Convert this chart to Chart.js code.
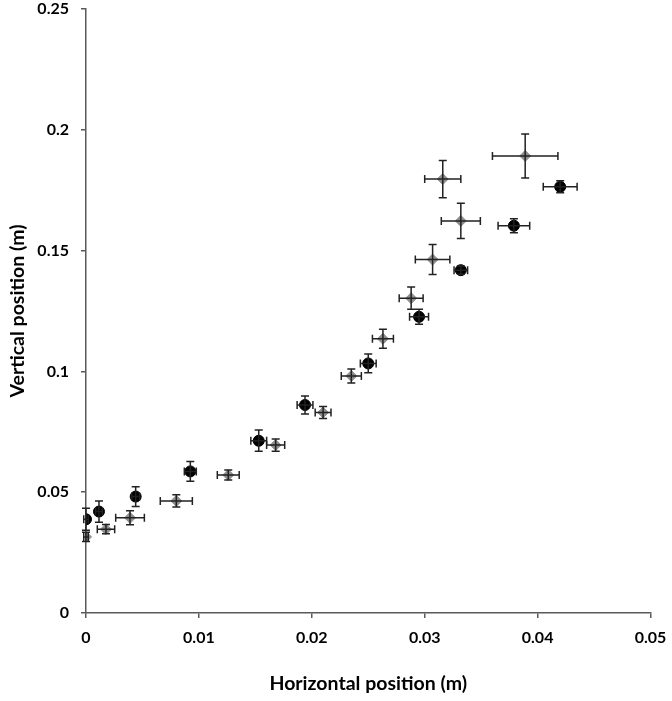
<!DOCTYPE html>
<html>
<head>
<meta charset="utf-8">
<script src="https://cdn.jsdelivr.net/npm/chart.js@4/dist/chart.umd.min.js"></script>
<style>
  html, body { margin: 0; padding: 0; background: #fff; }
  #wrap { width: 672px; height: 701px; }
</style>
</head>
<body>
<div id="wrap"><canvas id="chart" width="672" height="701"></canvas></div>
<script>
// --- data ---
const blackX    = [0, 0.00115, 0.0044, 0.00924, 0.0153, 0.0194, 0.025, 0.0295, 0.0332, 0.0379, 0.042];
const blackY    = [0.0388, 0.042, 0.0482, 0.0586, 0.0713, 0.0861, 0.1033, 0.1226, 0.1419, 0.1603, 0.1764];
const blackXErr = [0.0002, 0.0003, 0.00035, 0.00053, 0.0007, 0.0007, 0.0007, 0.00084, 0.0006, 0.0014, 0.0015];
const blackYErr = [0.0046, 0.0044, 0.0041, 0.0041, 0.0044, 0.0037, 0.0039, 0.0031, 0.0017, 0.0029, 0.0025];

const greyX    = [0, 0.00177, 0.0039, 0.008, 0.0126, 0.0168, 0.021, 0.0235, 0.0263, 0.0288, 0.0307, 0.0332, 0.0316, 0.0389];
const greyY    = [0.0315, 0.0347, 0.0394, 0.0464, 0.0571, 0.0695, 0.083, 0.0981, 0.1135, 0.1303, 0.1463, 0.1623, 0.1796, 0.1892];
const greyXErr = [0.0002, 0.00077, 0.00127, 0.00142, 0.00097, 0.0008, 0.0007, 0.00089, 0.00093, 0.00106, 0.00153, 0.00173, 0.0016, 0.0029];
const greyYErr = [0.0019, 0.0019, 0.0029, 0.0025, 0.0021, 0.0025, 0.0025, 0.0029, 0.0039, 0.0046, 0.0062, 0.0073, 0.0077, 0.0091];

const xTicks = [0, 0.01, 0.02, 0.03, 0.04, 0.05];
const yTicks = [0, 0.05, 0.1, 0.15, 0.2, 0.25];

const toPoints = (xs, ys, xe, ye) => xs.map((x, i) => ({ x, y: ys[i], xErr: xe[i], yErr: ye[i] }));

// error bars, drawn through the scales after the markers
const errorBars = {
  id: 'errorBars',
  afterDatasetsDraw(chart) {
    const { ctx, scales: { x, y } } = chart;
    const cap = 4;
    ctx.save();
    ctx.strokeStyle = '#222';
    ctx.lineWidth = 1.5;
    chart.data.datasets.forEach(ds => {
      ds.data.forEach(p => {
        const px = x.getPixelForValue(p.x), py = y.getPixelForValue(p.y);
        const x1 = x.getPixelForValue(p.x - p.xErr), x2 = x.getPixelForValue(p.x + p.xErr);
        const y1 = y.getPixelForValue(p.y - p.yErr), y2 = y.getPixelForValue(p.y + p.yErr);
        ctx.beginPath();
        ctx.moveTo(x1, py); ctx.lineTo(x2, py);
        ctx.moveTo(x1, py - cap); ctx.lineTo(x1, py + cap);
        ctx.moveTo(x2, py - cap); ctx.lineTo(x2, py + cap);
        ctx.moveTo(px, y1); ctx.lineTo(px, y2);
        ctx.moveTo(px - cap, y1); ctx.lineTo(px + cap, y1);
        ctx.moveTo(px - cap, y2); ctx.lineTo(px + cap, y2);
        ctx.stroke();
      });
    });
    ctx.restore();
  }
};

const tickFont = { family: 'Lato', size: 16, weight: 'bold' };
const titleFont = { family: 'Lato', size: 19.5, weight: 'bold' };

new Chart(document.getElementById('chart'), {
  type: 'scatter',
  data: {
    datasets: [
      {
        label: 'grey',
        data: toPoints(greyX, greyY, greyXErr, greyYErr),
        pointStyle: 'rectRot',
        pointRadius: 5.5,
        backgroundColor: '#8e8e8e',
        borderColor: '#8e8e8e',
        borderWidth: 1
      },
      {
        label: 'black',
        data: toPoints(blackX, blackY, blackXErr, blackYErr),
        pointStyle: 'circle',
        pointRadius: 5.5,
        backgroundColor: '#000',
        borderColor: '#000',
        borderWidth: 1
      }
    ]
  },
  options: {
    responsive: false,
    animation: false,
    layout: { padding: { top: 9, right: 21.5, left: 0, bottom: 0 } },
    plugins: { legend: { display: false }, tooltip: { enabled: false } },
    scales: {
      x: {
        type: 'linear',
        min: 0, max: 0.05,
        afterBuildTicks: s => { s.ticks = xTicks.map(v => ({ value: v })); },
        afterFit: s => { s.height = 88; s.paddingLeft = 0; s.paddingRight = 0; },
        border: { display: true, color: '#5a5a5a', width: 1.5 },
        grid: { drawOnChartArea: false, drawTicks: true, tickLength: 5, color: '#5a5a5a', lineWidth: 1.5 },
        ticks: { color: '#000', font: tickFont, padding: 10, maxRotation: 0, callback: v => String(+v.toFixed(2)) },
        title: { display: true, text: 'Horizontal position (m)', color: '#000', font: titleFont, padding: { top: 0, bottom: 6 } }
      },
      y: {
        type: 'linear',
        min: 0, max: 0.25,
        afterBuildTicks: s => { s.ticks = yTicks.map(v => ({ value: v })); },
        afterFit: s => { s.width = 86; s.paddingTop = 0; s.paddingBottom = 0; },
        border: { display: true, color: '#5a5a5a', width: 1.5 },
        grid: { drawOnChartArea: false, drawTicks: true, tickLength: 5, color: '#5a5a5a', lineWidth: 1.5 },
        ticks: { color: '#000', font: tickFont, padding: 12, callback: v => String(+v.toFixed(2)) },
        title: { display: true, text: 'Vertical position (m)', color: '#000', font: titleFont, padding: { top: 6, bottom: 0 } }
      }
    }
  },
  plugins: [errorBars]
});
</script>
</body>
</html>
